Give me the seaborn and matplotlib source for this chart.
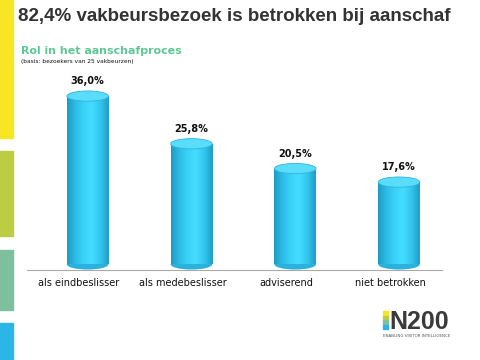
import numpy as np
import pandas as pd
import seaborn as sns
import matplotlib.pyplot as plt
from matplotlib.patches import Ellipse, Rectangle
from matplotlib.colors import LinearSegmentedColormap

# data
categories = ["als eindbeslisser", "als medebeslisser", "adviserend", "niet betrokken"]
values = [36.0, 25.8, 20.5, 17.6]
value_labels = ["36,0%", "25,8%", "20,5%", "17,6%"]

df = pd.DataFrame({"rol": categories, "pct": values})

sns.set_style("white")
plt.rcParams["font.family"] = ["DejaVu Sans"]

fig = plt.figure(figsize=(4.8, 3.6), dpi=100)
ax = fig.add_axes([0.056, 0.25, 0.865, 0.535])

sns.barplot(data=df, x="rol", y="pct", color="#33CCF0", width=0.4, ax=ax)

cyl = LinearSegmentedColormap.from_list(
    "cyl", ["#1E9CC4", "#2DBDE6", "#3AD3F7", "#45DCFF", "#33C6EE", "#1F9FC6"])
grad = np.linspace(0, 1, 64).reshape(1, -1)
eh = 2.2
shift = 0.085  # 3d depth offset of the cylinders

for p, lab in zip(ax.patches, value_labels):
    x, w, h = p.get_x() + shift, p.get_width(), p.get_height()
    p.set_visible(False)
    # bottom rounding
    ax.add_patch(Ellipse((x + w / 2, 0), w, eh, facecolor="#2AB2DC",
                         edgecolor="none", zorder=2))
    im = ax.imshow(grad, cmap=cyl, aspect="auto", extent=[x, x + w, 0, h],
                   zorder=3, interpolation="bilinear")
    clip = Rectangle((x, 0), w, h, transform=ax.transData)
    im.set_clip_path(clip)
    # top of cylinder
    ax.add_patch(Ellipse((x + w / 2, h), w, eh, facecolor="#5ADDFA",
                         edgecolor="#2BB5E0", lw=0.6, zorder=4))
    ax.text(x + w / 2, h + eh / 2 + 1.0, lab, ha="center", va="bottom",
            fontsize=7, fontweight="bold", color="#111111")

ax.set_xlim(-0.5, len(categories) - 0.5)
ax.set_ylim(-1.2, 40)
ax.set_xlabel("")
ax.set_ylabel("")
ax.set_yticks([])
for s in ["top", "right", "left"]:
    ax.spines[s].set_visible(False)
ax.spines["bottom"].set_color("#AAAAAA")
ax.spines["bottom"].set_linewidth(0.8)
ax.spines["bottom"].set_position(("data", -1.2))
ax.set_xticks(range(len(categories)))
ax.set_xticklabels(categories, fontsize=7, color="#111111")
ax.set_xticks(np.arange(-0.5, len(categories), 1.0), minor=True)
ax.tick_params(axis="x", which="major", length=0, pad=6)
ax.tick_params(axis="x", which="minor", length=4, color="#AAAAAA", width=0.8)

# titles
fig.text(0.037, 0.955, "82,4% vakbeursbezoek is betrokken bij aanschaf",
         fontsize=13.5, fontweight="bold", color="#333333",
         family="Liberation Sans", va="center")
fig.text(0.044, 0.857, "Rol in het aanschafproces", fontsize=7.9,
         fontweight="bold", color="#5CC894", va="center")
fig.text(0.044, 0.83, "(basis: bezoekers van 25 vakbeurzen)", fontsize=4.2,
         color="#111111", va="center")

# side stripes
stripes = [(0, 138, "#F8E625"), (151, 236, "#BDCD42"),
           (250, 310, "#7EC09E"), (323, 360, "#2AB7E8")]
for y0, y1, c in stripes:
    fig.patches.append(Rectangle((0, 1 - y1 / 360), 13 / 480, (y1 - y0) / 360,
                                 transform=fig.transFigure, color=c, zorder=0))

# logo
logo_cols = ["#F8E625", "#BDCD42", "#7EC09E", "#2AB7E8"]
for i, c in enumerate(logo_cols):
    fig.patches.append(Rectangle((383 / 480, 1 - (311 + i * 4.5 + 4.5) / 360),
                                 5 / 480, 4.5 / 360, transform=fig.transFigure,
                                 color=c))
fig.text(389 / 480, 1 - 329 / 360, "N200", fontsize=18, fontweight="bold",
         color="#3A3A3A", family="Liberation Sans", va="baseline")
fig.text(383 / 480, 1 - 336 / 360, "ENABLING VISITOR INTELLIGENCE",
         fontsize=2.9, color="#555555", va="center")

fig.savefig("out.png", dpi=100)
